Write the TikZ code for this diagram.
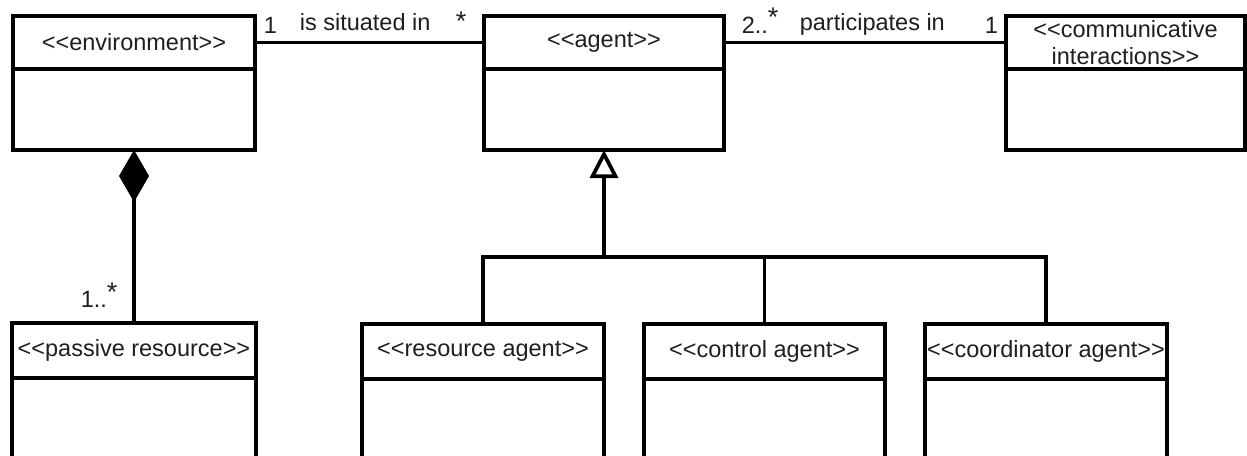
\documentclass[tikz,border=0pt]{standalone}
\usepackage{fontspec}
\setmainfont{Liberation Sans}
\usetikzlibrary{arrows.meta}
\newcommand\stl{<\kern0pt<}
\newcommand\stg{>\kern0pt>}
\begin{document}
\begin{tikzpicture}[x=1pt,y=-1pt,line width=3.7pt,line join=miter,
  txt/.style={font=\fontsize{23.5}{27}\selectfont,text=black!88},
  hdr/.style={txt,draw,line width=3.7pt,inner sep=0pt,outer sep=0pt,anchor=north west,align=center},
  bodybox/.style={draw,line width=3.7pt,inner sep=0pt,outer sep=0pt,anchor=north west},
  lbl/.style={txt,inner sep=0pt,anchor=base west}]
\clip (0,0) rectangle (1247,455);
\fill[white] (0,0) rectangle (1247,455);
% top classes
\node[hdr,minimum width=242pt,minimum height=53pt] (envh) at (13,16) {\stl environment\stg};
\node[bodybox,minimum width=242pt,minimum height=81pt] (envb) at (13,69) {};
\node[hdr,minimum width=240pt,minimum height=53pt] (agenth) at (484,16) {\stl agent\stg};
\node[bodybox,minimum width=240pt,minimum height=81pt] (agentb) at (484,69) {};
\node[hdr,minimum width=239pt,minimum height=53pt] (commh) at (1006,16) {\stl communicative\\ interactions\stg};
\node[bodybox,minimum width=239pt,minimum height=81pt] (commb) at (1006,69) {};
% bottom classes
\node[hdr,minimum width=244pt,minimum height=55pt] (passh) at (12,323) {\stl passive resource\stg};
\node[bodybox,minimum width=244pt,minimum height=120pt] (passb) at (12,378) {};
\node[hdr,minimum width=242pt,minimum height=55pt] (resh) at (362,324) {\stl resource agent\stg};
\node[bodybox,minimum width=242pt,minimum height=120pt] (resb) at (362,379) {};
\node[hdr,minimum width=241pt,minimum height=55pt] (ctrlh) at (644,324) {\stl control agent\stg};
\node[bodybox,minimum width=241pt,minimum height=120pt] (ctrlb) at (644,379) {};
\node[hdr,minimum width=242pt,minimum height=55pt] (coordh) at (925,324) {\stl coordinator agent\stg};
\node[bodybox,minimum width=242pt,minimum height=120pt] (coordb) at (925,379) {};
% associations
\draw (envh.east) -- (agenth.west);
\draw (agenth.east) -- (commh.west);
\node[lbl] (m1) at (262,33) {1};
\node[lbl] (assoc1) at (298,30) {is situated in};
\node[lbl,font=\fontsize{27}{27}\selectfont] (m2) at (454,30) {*};
\node[lbl] (m3) at (740,33) {2..\raisebox{6pt}{\fontsize{27}{27}\selectfont *}};
\node[lbl] (assoc2) at (798,30) {participates in};
\node[lbl] (m4) at (983,33) {1};
% composition
\draw[-{Diamond[length=52pt,width=30pt]}] (passh.north) -- (envb.south);
\node[lbl] (m5) at (79,307) {1..\raisebox{6pt}{\fontsize{27}{27}\selectfont *}};
% generalization
\coordinate (j) at (604,257);
\draw[-{Triangle[open,length=28pt,width=28pt]}] (agentb.south |- j) -- (agentb.south);
\draw (resh.north) -- (resh.north |- j) -- (coordh.north |- j) -- (coordh.north);
\draw (ctrlh.north) -- (ctrlh.north |- j);
\end{tikzpicture}
\end{document}
